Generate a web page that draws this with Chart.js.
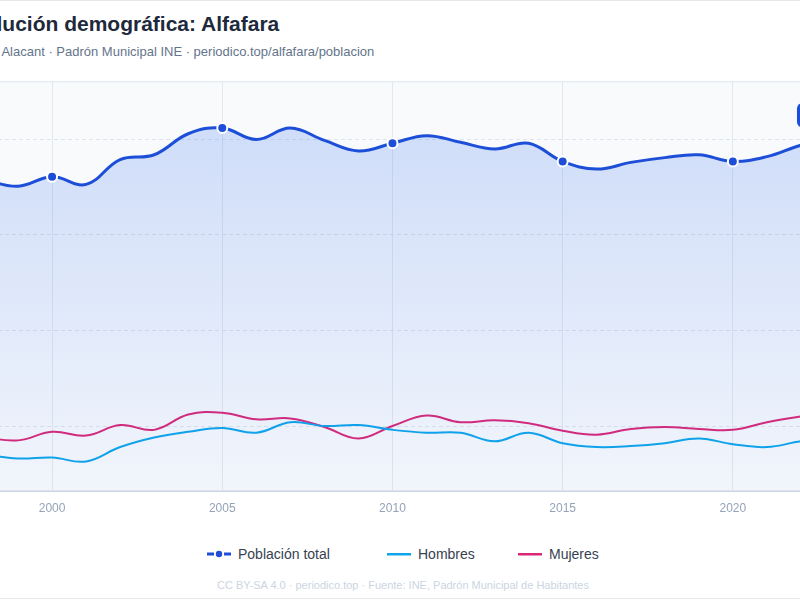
<!DOCTYPE html>
<html lang="es">
<head>
<meta charset="utf-8">
<title>Evolución demográfica: Alfafara</title>
<script src="https://cdn.jsdelivr.net/npm/chart.js@4.4.1/dist/chart.umd.min.js"></script>
<style>
  html, body { margin: 0; padding: 0; width: 800px; height: 600px; overflow: hidden; background: #fff; }
  body { position: relative; font-family: "Liberation Sans", Arial, sans-serif; }
  .card { position: absolute; left: -140px; top: 0; width: 1078px; height: 597px; border: 1px solid #e5e7eb; border-radius: 10px; }
  .title { position: absolute; left: -42px; top: 13px; font-size: 21px; line-height: 21px; font-weight: bold; color: #1e293b; white-space: nowrap; }
  .subtitle { position: absolute; left: -47px; top: 45px; font-size: 13px; line-height: 13px; color: #64748b; white-space: nowrap; }
  .chart-box { position: absolute; left: -74px; top: 66px; width: 963px; height: 455px; }
  .legend-item { position: absolute; top: 546px; height: 16px; display: flex; align-items: center; font-size: 14px; color: #374151; white-space: nowrap; }
  .legend-item svg { margin-right: 7px; }
  .footer { position: absolute; left: 0; width: 806px; top: 580px; text-align: center; font-size: 11px; line-height: 11px; color: #cbd5e1; white-space: nowrap; }
</style>
</head>
<body>
<div class="card"></div>
<div class="title">Evolución demográfica: Alfafara</div>
<div class="subtitle">Comtat, Alacant · Padrón Municipal INE · periodico.top/alfafara/poblacion</div>
<div class="chart-box"><canvas id="chart-poblacion"></canvas></div>

<div class="legend-item" style="left:207px">
  <svg width="24" height="10"><rect x="0" y="3.5" width="7" height="3" fill="#1d4ed8"/><circle cx="12" cy="5" r="3.2" fill="#1d4ed8"/><rect x="17" y="3.5" width="7" height="3" fill="#1d4ed8"/></svg>
  Población total
</div>
<div class="legend-item" style="left:387px">
  <svg width="24" height="10"><rect x="0" y="4" width="24" height="2.5" fill="#0ea5e9"/></svg>
  Hombres
</div>
<div class="legend-item" style="left:518px">
  <svg width="24" height="10"><rect x="0" y="4" width="24" height="2.5" fill="#db2777"/></svg>
  Mujeres
</div>
<div class="footer">CC BY-SA 4.0 · periodico.top · Fuente: INE, Padrón Municipal de Habitantes</div>

<script>
// Padrón municipal, habitantes por año
const years = [1998, 1999, 2000, 2001, 2002, 2003, 2004, 2005, 2006, 2007, 2008, 2009, 2010,
  2011, 2012, 2013, 2014, 2015, 2016, 2017, 2018, 2019, 2020, 2021, 2022, 2023, 2024];
const total = [558, 551, 561, 553, 579, 584, 606, 612, 600, 612, 599, 588, 596,
  604, 597, 590, 596, 577, 569, 576, 581, 584, 577, 582, 594, 602, 604];
const hombres = [270, 266, 267, 263, 278, 288, 294, 298, 293, 304, 300, 301, 296,
  293, 293, 284, 293, 282, 278, 279, 282, 287, 281, 278, 284, 287, 288];
const mujeres = [288, 285, 294, 290, 301, 296, 312, 314, 307, 308, 299, 287, 300,
  311, 304, 306, 303, 295, 291, 297, 299, 297, 296, 304, 310, 315, 316];
const xTicks = [2000, 2005, 2010, 2015, 2020];
const yTicks = [300, 400, 500, 600];

const BLUE = '#1d4ed8';
const SKY = '#0ea5e9';
const PINK = '#db2777';

const toPoints = arr => arr.map((v, i) => ({ x: years[i], y: v }));

const plotBackground = {
  id: 'plotBackground',
  beforeDraw(chart) {
    const { ctx, chartArea: a } = chart;
    ctx.save();
    ctx.fillStyle = '#f8fafc';
    ctx.fillRect(a.left, a.top, a.right - a.left, a.bottom - a.top);
    ctx.strokeStyle = '#e2e8f0';
    ctx.lineWidth = 1;
    ctx.strokeRect(a.left + 0.5, a.top + 0.5, a.right - a.left - 1, a.bottom - a.top - 1);
    ctx.restore();
  }
};

// etiqueta con el ultimo valor
const lastValueBadge = {
  id: 'lastValueBadge',
  afterDatasetsDraw(chart) {
    const meta = chart.getDatasetMeta(0);
    const pt = meta.data[meta.data.length - 1];
    if (!pt) return;
    const { ctx } = chart;
    const text = total[total.length - 1] + ' hab.';
    ctx.save();
    ctx.font = 'bold 12px "Liberation Sans", Arial, sans-serif';
    const w = ctx.measureText(text).width + 16;
    const h = 25;
    const x = pt.x - 8 - w;
    const y = pt.y - 8 - h;
    ctx.fillStyle = BLUE;
    ctx.beginPath();
    ctx.roundRect(x, y, w, h, 6);
    ctx.fill();
    ctx.fillStyle = '#fff';
    ctx.textBaseline = 'middle';
    ctx.fillText(text, x + 8, y + h / 2 + 1);
    ctx.restore();
  }
};

const markerRadius = ctx => {
  const yr = years[ctx.dataIndex];
  return (yr % 5 === 0 || ctx.dataIndex === years.length - 1) ? 5 : 0;
};

new Chart(document.getElementById('chart-poblacion'), {
  type: 'line',
  data: {
    datasets: [
      {
        label: 'Población total',
        data: toPoints(total),
        borderColor: BLUE,
        borderWidth: 3,
        tension: 0.4,
        fill: 'start',
        backgroundColor: ctx => {
          const a = ctx.chart.chartArea;
          if (!a) return 'rgba(37,99,235,0.12)';
          const g = ctx.chart.ctx.createLinearGradient(0, a.top, 0, a.bottom);
          g.addColorStop(0, 'rgba(37,99,235,0.21)');
          g.addColorStop(1, 'rgba(37,99,235,0.03)');
          return g;
        },
        pointRadius: markerRadius,
        pointBackgroundColor: BLUE,
        pointBorderColor: '#fff',
        pointBorderWidth: 2,
        order: 1
      },
      {
        label: 'Hombres',
        data: toPoints(hombres),
        borderColor: SKY,
        borderWidth: 2,
        tension: 0.4,
        fill: false,
        pointRadius: 0,
        order: 2
      },
      {
        label: 'Mujeres',
        data: toPoints(mujeres),
        borderColor: PINK,
        borderWidth: 2,
        tension: 0.4,
        fill: false,
        pointRadius: 0,
        order: 3
      }
    ]
  },
  options: {
    responsive: true,
    maintainAspectRatio: false,
    animation: false,
    layout: { padding: { top: 10, left: 10, right: 20, bottom: 0 } },
    plugins: {
      legend: { display: false },
      tooltip: { enabled: false }
    },
    scales: {
      x: {
        type: 'linear',
        min: 1998,
        max: 2024,
        afterBuildTicks: scale => { scale.ticks = xTicks.map(v => ({ value: v })); },
        afterFit: scale => { scale.height = 30; },
        grid: { color: '#e2e8f0', drawTicks: false },
        border: { color: '#cbd5e1' },
        ticks: {
          padding: 10,
          color: '#94a3b8',
          font: { family: '"Liberation Sans", Arial, sans-serif', size: 12 },
          callback: v => String(v)
        }
      },
      y: {
        min: 232,
        max: 661,
        afterBuildTicks: scale => { scale.ticks = yTicks.map(v => ({ value: v })); },
        afterFit: scale => { scale.width = 48; },
        grid: { color: '#dfe4ee', drawTicks: false },
        border: { display: false, dash: [4, 3] },
        ticks: {
          padding: 8,
          color: '#94a3b8',
          font: { family: '"Liberation Sans", Arial, sans-serif', size: 12 }
        }
      }
    }
  },
  plugins: [plotBackground, lastValueBadge]
});
</script>
</body>
</html>
